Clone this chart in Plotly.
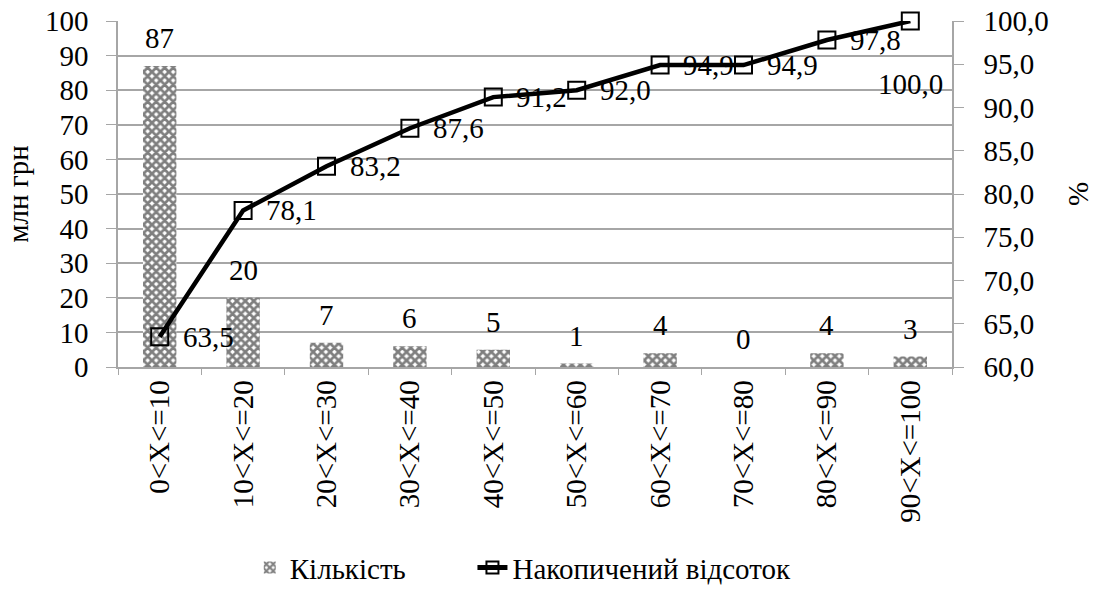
import plotly.graph_objects as go

categories = ["0<X<=10", "10<X<=20", "20<X<=30", "30<X<=40", "40<X<=50",
              "50<X<=60", "60<X<=70", "70<X<=80", "80<X<=90", "90<X<=100"]
counts = [87, 20, 7, 6, 5, 1, 4, 0, 4, 3]
cum_pct = [63.5, 78.1, 83.2, 87.6, 91.2, 92.0, 94.9, 94.9, 97.8, 100.0]

FONT = "Liberation Serif"
FS = 29
GRID = "#a6a6a6"

fig = go.Figure()
fig.add_trace(go.Bar(
    x=categories, y=counts, name="Кількість",
    marker=dict(color="white", line=dict(width=0),
                pattern=dict(shape="x", fgcolor="black", bgcolor="white",
                             size=6, solidity=0.7)),
    yaxis="y", legend="legend",
))
fig.add_trace(go.Scatter(
    x=categories, y=cum_pct, name="Накопичений відсоток",
    mode="lines+markers", cliponaxis=False,
    line=dict(color="black", width=4.5),
    marker=dict(symbol="square-open", size=17, color="black", line=dict(width=2)),
    yaxis="y2", legend="legend2",
))

annotations = []
for c, v in zip(categories, counts):
    annotations.append(dict(x=c, y=v, xref="x", yref="y", text=str(v),
                            showarrow=False, yanchor="middle", yshift=28,
                            font=dict(family=FONT, size=FS, color="black")))
for i, (c, v) in enumerate(zip(categories, cum_pct)):
    txt = f"{v:.1f}".replace(".", ",")
    if i == len(categories) - 1:
        annotations.append(dict(x=c, y=v, xref="x", yref="y2", text=txt,
                                showarrow=False, xanchor="center", yanchor="middle",
                                yshift=-63,
                                font=dict(family=FONT, size=FS, color="black")))
    else:
        annotations.append(dict(x=c, y=v, xref="x", yref="y2", text=txt,
                                showarrow=False, xanchor="left", yanchor="middle",
                                xshift=21,
                                font=dict(family=FONT, size=FS, color="black")))

leg_common = dict(orientation="h", yanchor="middle", y=-0.58, xanchor="left",
                  font=dict(family=FONT, size=FS), itemsizing="constant",
                  bgcolor="rgba(0,0,0,0)")

fig.update_layout(
    width=1097, height=604,
    margin=dict(l=118, r=145, t=21, b=237, autoexpand=False),
    paper_bgcolor="white", plot_bgcolor="white",
    font=dict(family=FONT, size=FS, color="black"),
    separators=", ",
    bargap=0.6,
    showlegend=True,
    legend=dict(x=0.158, **leg_common),
    legend2=dict(x=0.425, **leg_common),
    xaxis=dict(type="category", tickangle=-90, showgrid=False, automargin=False,
               range=[-0.5, len(categories) - 0.5], autorange=False,
               showline=True, linecolor=GRID, linewidth=1.5,
               ticks="outside", tickson="boundaries", ticklen=6, tickcolor=GRID,
               tickfont=dict(family=FONT, size=FS)),
    yaxis=dict(range=[0, 100], dtick=10, showgrid=True, gridcolor=GRID, gridwidth=1.5,
               showline=True, linecolor=GRID, linewidth=1.5, automargin=False,
               ticks="outside", ticklen=10, tickcolor=GRID, ticklabelstandoff=12,
               zeroline=False,
               title=dict(text="млн грн", standoff=8, font=dict(family=FONT, size=FS)),
               tickfont=dict(family=FONT, size=FS)),
    yaxis2=dict(range=[60, 100], dtick=5, tickformat=".1f", overlaying="y", side="right",
                showgrid=False, showline=True, linecolor=GRID, linewidth=1.5,
                automargin=False,
                ticks="outside", ticklen=10, tickcolor=GRID, ticklabelstandoff=14,
                zeroline=False,
                title=dict(text="%", standoff=20, font=dict(family=FONT, size=FS)),
                tickfont=dict(family=FONT, size=FS)),
    annotations=annotations,
)

fig.write_html("out.html", config={"displayModeBar": False},
               post_script="document.body.style.margin='0';")
